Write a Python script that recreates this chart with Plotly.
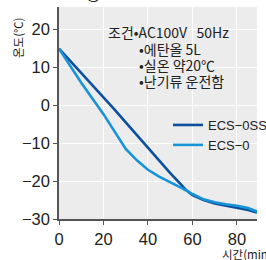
import plotly.graph_objects as go

time_min = [0, 10, 20, 25, 30, 35, 40, 45, 50, 55, 57, 60, 65, 70, 75, 80, 85, 89]
ecs_0ss = [15, 8.6, 2.2, -1.1, -4.5, -7.9, -11.2, -14.6, -17.9, -21.0, -22.3, -23.7, -25.0, -25.9, -26.4, -27.0, -27.6, -28.3]
ecs_0 = [15, 6.0, -2.3, -7.0, -11.5, -14.5, -17.0, -18.8, -20.4, -21.8, -22.4, -23.4, -24.8, -25.6, -26.1, -26.5, -27.1, -28.0]

series_names = ["ECS\u22120SS", "ECS\u22120"]
x_ticks = [0, 20, 40, 60, 80]
y_ticks = [20, 10, 0, -10, -20, -30]

FONT = "Liberation Sans, Arial, Noto Sans CJK KR, sans-serif"
KFONT = "Noto Sans CJK KR, Liberation Sans, sans-serif"

L, T, PW, PH = 59, 7, 198, 212


def px(x):
    return (x - L) / PW


def py(y):
    return 1 - (y - T) / PH


fig = go.Figure()
fig.add_trace(go.Scatter(x=time_min, y=ecs_0ss, mode="lines", name=series_names[0],
                         line=dict(color="#0d4f9e", width=2.6)))
fig.add_trace(go.Scatter(x=time_min, y=ecs_0, mode="lines", name=series_names[1],
                         line=dict(color="#1793d8", width=2.6)))

fig.update_layout(
    width=266, height=260,
    margin=dict(l=L, r=266 - L - PW, t=T, b=260 - T - PH, autoexpand=False),
    paper_bgcolor="white",
    plot_bgcolor="#ececec",
    font=dict(family=FONT, size=16.5, color="#222"),
    showlegend=True,
    legend=dict(x=px(168), y=py(110), xanchor="left", yanchor="top",
                bgcolor="rgba(0,0,0,0)",
                font=dict(family=FONT, size=13, color="#222"),
                itemwidth=30, tracegroupgap=0),
    xaxis=dict(range=[0, 89], tickvals=x_ticks, showgrid=True, gridcolor="white", gridwidth=1,
               showline=True, linecolor="#555", linewidth=1.5, ticks="outside", ticklen=4,
               tickcolor="#555", zeroline=False, tickfont=dict(size=16.5)),
    yaxis=dict(range=[-30, 26], tickvals=y_ticks, showgrid=True, gridcolor="white", gridwidth=1,
               showline=True, linecolor="#555", linewidth=1.5, ticks="outside", ticklen=4,
               tickcolor="#555", zeroline=False, tickfont=dict(size=16.5)),
)

ann = [
    dict(text="조건•AC100V\u00a0\u00a0\u00a050Hz", x=106, y=32),
    dict(text="•에탄올 5L", x=137, y=49),
    dict(text="•실온 약20℃", x=137, y=65),
    dict(text="•난기류 운전함", x=137, y=81),
]
for a in ann:
    fig.add_annotation(text=a["text"], xref="paper", yref="paper",
                       x=px(a["x"]), y=py(a["y"]),
                       xanchor="left", yanchor="middle", showarrow=False,
                       font=dict(family=KFONT, size=14, color="#222"))

# y axis title
fig.add_annotation(text="온도(℃)", xref="paper", yref="paper",
                   x=px(18), y=py(38), textangle=-90,
                   xanchor="center", yanchor="middle", showarrow=False,
                   font=dict(family=KFONT, size=11.5, color="#222"))
# x axis title
fig.add_annotation(text="시간(min)", xref="paper", yref="paper",
                   x=px(220), y=py(254),
                   xanchor="left", yanchor="middle", showarrow=False,
                   font=dict(family=KFONT, size=11.5, color="#222"))
# cut-off title at top
fig.add_annotation(text="ECS\u22120·0SS형", xref="paper", yref="paper",
                   x=px(0), y=py(7),
                   xanchor="left", yanchor="bottom", showarrow=False,
                   font=dict(family=KFONT, size=16, color="#222"))

fig.write_html("out.html", config={"displayModeBar": False},
               post_script="document.body.style.margin='0';")
